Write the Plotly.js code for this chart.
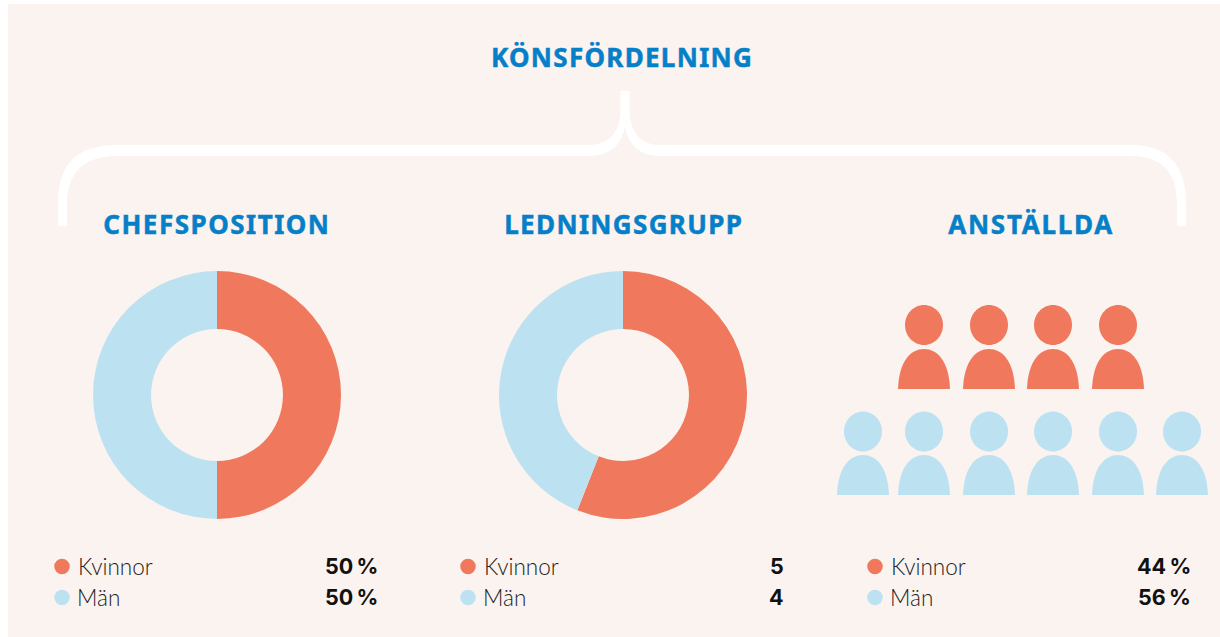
<!DOCTYPE html>
<html><head><meta charset="utf-8">
<script src="https://cdn.plot.ly/plotly-3.0.1.min.js"></script>
<style>html,body{margin:0;padding:0;background:#fff}#c{width:1220px;height:637px}</style>
</head><body><div id="c"></div>
<script>
const categories = ['Kvinnor', 'Män'];
const chefspositionValues = [50, 50];
const ledningsgruppShares = [56, 44];
const anstalldaValues = [44, 56];
const chefspositionLabels = ['50\u2009%', '50\u2009%'];
const ledningsgruppLabels = ['5', '4'];
const anstalldaLabels = ['44\u2009%', '56\u2009%'];
const womenIconX = [924, 989, 1053, 1118];
const menIconX = [863, 924, 989, 1053, 1118, 1182];
const groupTitles = ['CHEFSPOSITION', 'LEDNINGSGRUPP', 'ANSTÄLLDA'];
const mainTitle = 'KÖNSFÖRDELNING';

const W = 1220, H = 637;
const CORAL = '#F0795D', SKY = '#BCE2F2', BG = '#FBF3EF', BLUE = '#0580C8';
const colors = [CORAL, SKY];

function donut(values, cx, name) {
  const cy = 395, r = 124;
  return {
    type: 'pie', name, labels: categories, values, sort: false, direction: 'clockwise', rotation: 0,
    hole: 0.532, textinfo: 'none', hoverinfo: 'label', showlegend: false,
    marker: {colors, line: {width: 0}},
    domain: {x: [(cx - r) / W, (cx + r) / W], y: [(H - cy - r) / H, (H - cy + r) / H]}
  };
}

const legendDots = [62, 468, 875];
const dotTrace = {
  type: 'scatter', mode: 'markers', xaxis: 'x', yaxis: 'y', hoverinfo: 'skip', showlegend: false,
  x: legendDots.flatMap(x => [x, x]),
  y: legendDots.flatMap(() => [566.5, 597.5]),
  marker: {size: 15.5, color: legendDots.flatMap(() => colors), line: {width: 0}}
};

function person(x, headY, bodyTop, color) {
  const bottom = bodyTop + 40;
  return [
    {type: 'path', layer: 'above', fillcolor: color, line: {width: 0},
     path: `M${x-19},${headY} C${x-19},${headY-11} ${x-10.5},${headY-20} ${x},${headY-20} C${x+10.5},${headY-20} ${x+19},${headY-11} ${x+19},${headY} C${x+19},${headY+11} ${x+10.5},${headY+20} ${x},${headY+20} C${x-10.5},${headY+20} ${x-19},${headY+11} ${x-19},${headY} Z`},
    {type: 'path', layer: 'above', fillcolor: color, line: {width: 0},
     path: `M${x-26},${bottom} C${x-25},${bodyTop+13} ${x-14},${bodyTop} ${x},${bodyTop} C${x+14},${bodyTop} ${x+25},${bodyTop+13} ${x+26},${bottom} Z`}
  ];
}

const brace = `M58,226 L58,205 C58,166 74,145 118,145 L587,145 C610,145 620.5,132 620.5,108 L620.5,91 L629.5,91 L629.5,108 C629.5,132 640,145 661,145 L1130,145 C1170,145 1186,166 1186,205 L1186,226 L1177,226 L1177,205 C1177,172 1162,156 1130,156 L661,156 C640,156 629,146 625,127 C621,146 610,156 587,156 L118,156 C84,156 67,172 67,205 L67,226 Z`;

const shapes = [
  {type: 'rect', layer: 'below', x0: 8, x1: 1220, y0: 4, y1: 637, fillcolor: BG, line: {width: 0}},
  {type: 'path', layer: 'below', path: brace, fillcolor: '#FFFFFF', line: {width: 0}}
];
womenIconX.forEach(x => shapes.push(...person(x, 325, 349, CORAL)));
menIconX.forEach(x => shapes.push(...person(x, 431.5, 455, SKY)));

const head = (text, x, y) => ({text: '<b>' + text + '</b>', x, y, xref: 'x', yref: 'y', showarrow: false,
  xanchor: 'center', yanchor: 'middle', font: {family: 'Noto Sans, Open Sans, sans-serif', size: 26, color: BLUE}});
const annotations = [
  head(mainTitle, 622, 57),
  head(groupTitles[0], 217, 224),
  head(groupTitles[1], 624, 224),
  head(groupTitles[2], 1031, 224)
];
const legendSets = [
  [76, 379.5, chefspositionLabels],
  [482, 786, ledningsgruppLabels],
  [889, 1192.5, anstalldaLabels]
];
legendSets.forEach(([lx, vx, labels]) => {
  categories.forEach((c, i) => {
    const y = i === 0 ? 566 : 597;
    annotations.push({text: c, x: i === 0 ? lx : lx - 1, y, xref: 'x', yref: 'y', showarrow: false, xanchor: 'left', yanchor: 'middle',
      font: {family: 'Lato, sans-serif', size: 22.5, weight: 300, color: '#222222'}});
    annotations.push({text: '<b>' + labels[i] + '</b>', x: vx, y, xref: 'x', yref: 'y', showarrow: false, xanchor: 'right', yanchor: 'middle',
      font: {family: 'Inter, sans-serif', size: 21.5, color: '#111111'}});
  });
});

const layout = {
  width: W, height: H, margin: {l: 0, r: 0, t: 0, b: 0}, showlegend: false,
  paper_bgcolor: '#FFFFFF', plot_bgcolor: 'rgba(0,0,0,0)',
  xaxis: {range: [0, W], visible: false, fixedrange: true},
  yaxis: {range: [H, 0], visible: false, fixedrange: true},
  shapes, annotations
};

const spacing = {[mainTitle]: 1.3, [groupTitles[0]]: 1.5, [groupTitles[1]]: 1.35, [groupTitles[2]]: 1.7};
Plotly.newPlot('c', [
  donut(chefspositionValues, 217, 'Chefsposition'),
  donut(ledningsgruppShares, 623, 'Ledningsgrupp'),
  dotTrace
], layout, {displayModeBar: false, responsive: false}).then(() => {
  document.querySelectorAll('.annotation-text').forEach(t => {
    const s = spacing[t.textContent];
    if (s) { t.style.letterSpacing = s + 'px'; t.style.stroke = BLUE; t.style.strokeWidth = '0.5px'; }
  });
});
</script></body></html>
